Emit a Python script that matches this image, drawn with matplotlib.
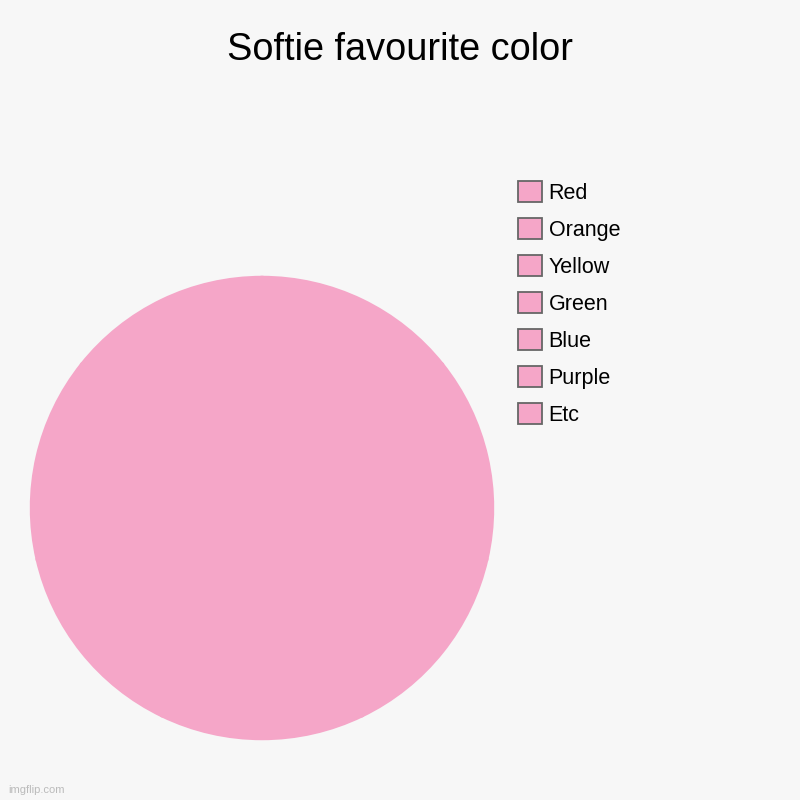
import matplotlib
matplotlib.use("Agg")
from matplotlib import pyplot as plt
from matplotlib.patches import Patch

# legend entries and values (every slice drawn in the same pink)
labels = ["Red", "Orange", "Yellow", "Green", "Blue", "Purple", "Etc"]
values = [1, 1, 1, 1, 1, 1, 1]
pink = "#f5a6c8"

plt.rcParams['font.family'] = ['Liberation Sans', 'DejaVu Sans']

fig = plt.figure(figsize=(8, 8), dpi=100, facecolor="#f7f7f7")
ax = fig.add_axes([0.0375, 0.075, 0.58, 0.58])
ax.set_facecolor("#f7f7f7")

# same-colour edges hide the seams between slices
ax.pie(values, colors=[pink] * len(values), startangle=90,
       counterclock=False, radius=0.995,
       wedgeprops=dict(edgecolor=pink, linewidth=2))
ax.set_xlim(-1, 1)
ax.set_ylim(-1, 1)
ax.set_aspect("equal")

handles = [Patch(facecolor=pink, edgecolor="#666666", linewidth=1.3) for _ in labels]
fig.legend(handles, labels, loc="upper left", bbox_to_anchor=(0.6475, 0.7735),
           frameon=False, fontsize=15.5, borderpad=0, borderaxespad=0,
           handlelength=1.12, handleheight=1.12, handletextpad=0.3,
           labelspacing=0.66)

fig.text(0.5, 0.937, "Softie favourite color", ha="center", va="center",
         fontsize=27.3, color="black")
fig.text(0.01, 0.012, "imgflip.com", ha="left", va="center", fontsize=8,
         color="#bbbbbb")

fig.savefig("out.png", dpi=100, facecolor=fig.get_facecolor())
